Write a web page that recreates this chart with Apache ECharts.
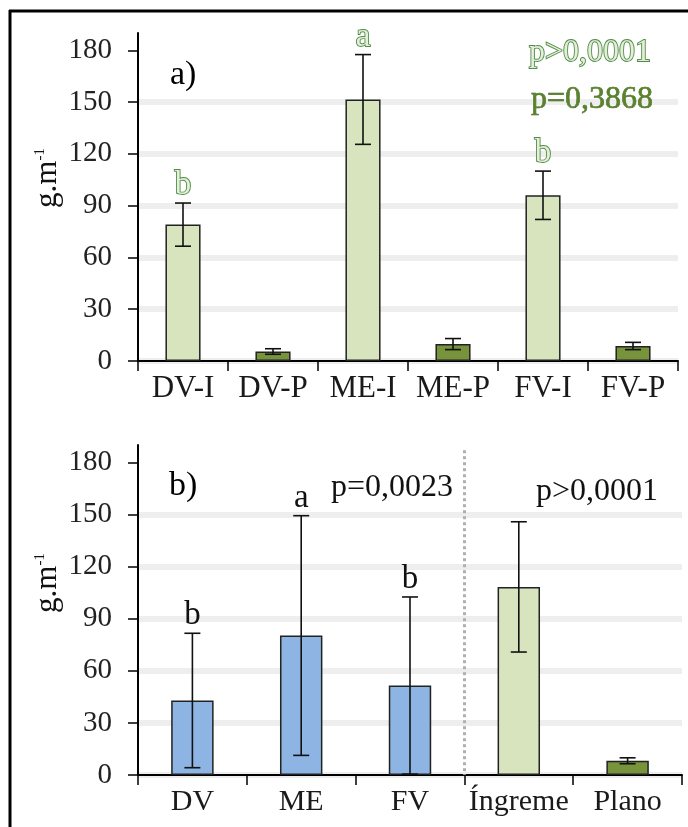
<!DOCTYPE html>
<html>
<head>
<meta charset="utf-8">
<script src="https://cdn.jsdelivr.net/npm/echarts@6/dist/echarts.min.js"></script>
<style>
  html, body { margin: 0; padding: 0; background: #fff; }
  #main { width: 688px; height: 827px; }
</style>
</head>
<body>
<div id="main"></div>
<script>
// painel a) - tratamentos x posição
var topCats = ['DV-I', 'DV-P', 'ME-I', 'ME-P', 'FV-I', 'FV-P'];
var topGroups = ['I', 'P', 'I', 'P', 'I', 'P'];
var topMeans = [79, 5.5, 151.5, 9.8, 96, 8.7];
var topErr = [12.5, 1.6, 26, 3.2, 14, 2.1];
var topLetters = ['b', '', 'a', '', 'b', ''];

// painel b) - locais e declividade
var botCats = ['DV', 'ME', 'FV', 'Íngreme', 'Plano'];
var botGroups = ['L', 'L', 'L', 'I', 'P'];
var botMeans = [42.9, 80.3, 51.5, 108.3, 8.2];
var botErr = [38.7, 69, 51, 37.5, 1.7];
var botLetters = ['b', 'a', 'b', '', ''];

// eixo y
var yTicks = [0, 30, 60, 90, 120, 150, 180];

var FONT = '"Liberation Serif", "Times New Roman", serif';
var barColors = { I: '#d7e4bd', P: '#77933c', L: '#8db4e2' };

var chart = echarts.init(document.getElementById('main'));

function barData(means, groups) {
    return means.map(function (v, i) {
        return { value: v, itemStyle: { color: barColors[groups[i]] } };
    });
}

// barras de erro + letras
function errRender(letters, letterStyle) {
    return function (params, api) {
        var i = api.value(0), m = api.value(1), e = api.value(2);
        var top = api.coord([i, m + e]);
        var bot = api.coord([i, Math.max(m - e, 0)]);
        var cap = 8;
        var ls = { stroke: '#111', lineWidth: 1.6 };
        var children = [
            { type: 'line', shape: { x1: top[0], y1: top[1], x2: bot[0], y2: bot[1] }, style: ls },
            { type: 'line', shape: { x1: top[0] - cap, y1: top[1], x2: top[0] + cap, y2: top[1] }, style: ls },
            { type: 'line', shape: { x1: bot[0] - cap, y1: bot[1], x2: bot[0] + cap, y2: bot[1] }, style: ls }
        ];
        if (letters[i]) {
            children.push({
                type: 'text',
                style: Object.assign({
                    text: letters[i], x: top[0], y: top[1] - 1,
                    align: 'center', verticalAlign: 'bottom',
                    fontSize: 33, fontFamily: FONT
                }, letterStyle)
            });
        }
        return { type: 'group', children: children };
    };
}

function xAxisOf(idx, data, size) {
    return {
        gridIndex: idx,
        type: 'category',
        data: data,
        axisLine: { lineStyle: { color: '#000', width: 2 } },
        axisTick: { show: true, length: 10, lineStyle: { color: '#000', width: 1.5 } },
        axisLabel: { interval: 0, fontSize: size, fontFamily: FONT, color: '#1a1a1a', margin: 12 }
    };
}

function yAxisOf(idx) {
    return {
        gridIndex: idx,
        type: 'value',
        min: 0,
        max: 190,
        interval: 30,
        axisLine: { show: true, lineStyle: { color: '#000', width: 2 } },
        axisTick: { show: true, length: 10, customValues: yTicks, lineStyle: { color: '#000', width: 1.5 } },
        axisLabel: { customValues: yTicks, fontSize: 29, fontFamily: FONT, color: '#222', margin: 26 },
        splitLine: { show: true, showMaxLine: false, lineStyle: { color: '#eeeeee', width: 6 } }
    };
}

// letras "vazadas" verdes
var hollowGreen = { fill: '#e4eed8', stroke: '#4f8c45', lineWidth: 1.8, strokeFirst: true };
var yName = {
    text: '{b|g.m}{s|-1}',
    align: 'center', verticalAlign: 'middle',
    rich: {
        b: { fontSize: 31, fontFamily: FONT, fill: '#111' },
        s: { fontSize: 15, fontFamily: FONT, fill: '#111', verticalAlign: 'top' }
    }
};

function buildGraphic(sep) {
    var g = [
        // moldura
        { type: 'line', z: 100, shape: { x1: 9, y1: 11, x2: 688, y2: 11 }, style: { stroke: '#000', lineWidth: 3 } },
        { type: 'line', z: 100, shape: { x1: 10, y1: 10, x2: 10, y2: 827 }, style: { stroke: '#000', lineWidth: 3 } },
        // título eixo y
        { type: 'text', z: 100, x: 48, y: 178, rotation: Math.PI / 2, style: Object.assign({}, yName) },
        { type: 'text', z: 100, x: 48, y: 583, rotation: Math.PI / 2, style: Object.assign({}, yName) },
        // textos painel a)
        { type: 'text', z: 100, left: 170, top: 58, style: { text: 'a)', fontSize: 34, fontFamily: FONT, fill: '#000' } },
        { type: 'text', z: 100, x: 590, y: 53, style: Object.assign({ text: 'p>0,0001', align: 'center', verticalAlign: 'middle', fontSize: 32, fontFamily: FONT }, hollowGreen) },
        { type: 'text', z: 100, x: 592, y: 100, style: { text: 'p=0,3868', align: 'center', verticalAlign: 'middle', fontSize: 32, fontFamily: FONT, fill: '#5a842b', stroke: '#3d5e1c', lineWidth: 0.6 } },
        // textos painel b)
        { type: 'text', z: 100, left: 169, top: 469, style: { text: 'b)', fontSize: 34, fontFamily: FONT, fill: '#000' } },
        { type: 'text', z: 100, x: 392, y: 488, style: { text: 'p=0,0023', align: 'center', verticalAlign: 'middle', fontSize: 32, fontFamily: FONT, fill: '#111' } },
        { type: 'text', z: 100, x: 597, y: 492, style: { text: 'p>0,0001', align: 'center', verticalAlign: 'middle', fontSize: 32, fontFamily: FONT, fill: '#111' } }
    ];
    if (sep) {
        g.push({ type: 'line', z: 1, shape: sep, style: { stroke: '#b0b0b0', lineWidth: 3, lineDash: [3, 3] } });
    }
    return g;
}

var option = {
    animation: false,
    backgroundColor: '#fff',
    grid: [
        { left: 138, right: 10, top: 33, bottom: 466 },
        { left: 138, right: 6, top: 445, bottom: 52 }
    ],
    xAxis: [xAxisOf(0, topCats, 31), xAxisOf(1, botCats, 30)],
    yAxis: [yAxisOf(0), yAxisOf(1)],
    series: [
        {
            type: 'bar', xAxisIndex: 0, yAxisIndex: 0,
            barWidth: '39%',
            itemStyle: { borderColor: '#222', borderWidth: 1.5 },
            data: barData(topMeans, topGroups)
        },
        {
            type: 'custom', xAxisIndex: 0, yAxisIndex: 0, z: 5,
            renderItem: errRender(topLetters, hollowGreen),
            data: topMeans.map(function (m, i) { return [i, m, topErr[i]]; })
        },
        {
            type: 'bar', xAxisIndex: 1, yAxisIndex: 1,
            barWidth: '39%',
            itemStyle: { borderColor: '#222', borderWidth: 1.5 },
            data: barData(botMeans, botGroups)
        },
        {
            type: 'custom', xAxisIndex: 1, yAxisIndex: 1, z: 5,
            renderItem: errRender(botLetters, { fill: '#111' }),
            data: botMeans.map(function (m, i) { return [i, m, botErr[i]]; })
        }
    ],
    graphic: buildGraphic(null)
};

chart.setOption(option);

// linha pontilhada entre FV e Íngreme
var xa = chart.convertToPixel({ xAxisIndex: 1 }, 'FV');
var xb = chart.convertToPixel({ xAxisIndex: 1 }, 'Íngreme');
var xs = Math.round((xa + xb) / 2) + 0.5;
var yTop = chart.convertToPixel({ yAxisIndex: 1 }, 187);
var yBot = chart.convertToPixel({ yAxisIndex: 1 }, 0);
chart.setOption({ graphic: buildGraphic({ x1: xs, y1: yTop, x2: xs, y2: yBot }) });
</script>
</body>
</html>
